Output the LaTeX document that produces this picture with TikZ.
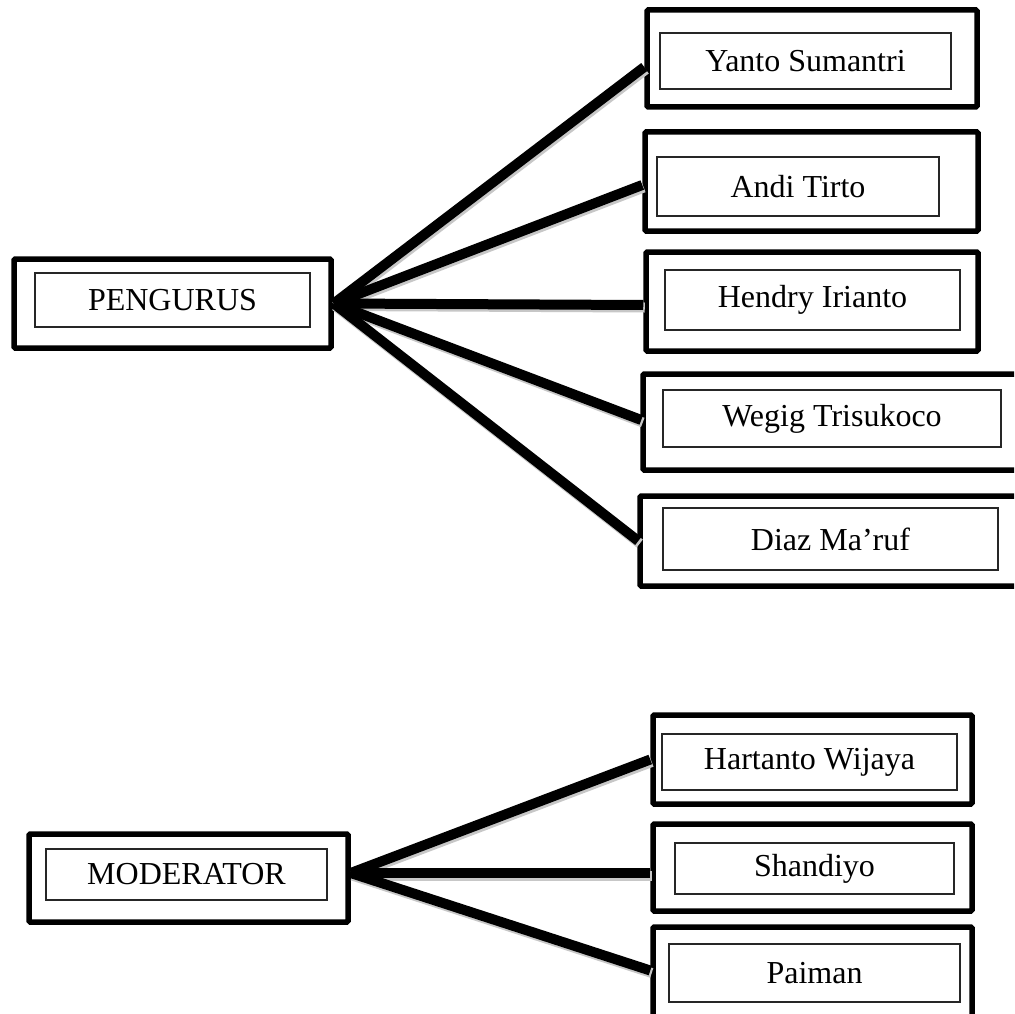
\documentclass[tikz,border=0pt]{standalone}
\usepackage{fontspec}
\setmainfont{Liberation Serif}
\begin{document}
\begin{tikzpicture}[x=1pt,y=-1pt,
  outerbox/.style={draw=black, line width=5.5pt, rounded corners=1.2pt, inner sep=0pt},
  innerbox/.style={draw=black!85, line width=1.3pt, inner sep=0pt, font=\fontsize{32}{38}\selectfont},
  conn/.style={line width=10pt, black,
    preaction={draw=black!22, line width=10pt, transform canvas={shift={(1.5pt,-2.5pt)}}}}]
\useasboundingbox (0,0) rectangle (1014,1014);
\clip (0,0) rectangle (1014,1014);
\fill[white] (0,0) rectangle (1014,1014);
% outer boxes
\node[outerbox, minimum width=317pt, minimum height=89pt] (P) at (172.5,303.5) {};
\node[outerbox, minimum width=330pt, minimum height=97pt] (Y) at (812,58.5) {};
\node[outerbox, minimum width=333pt, minimum height=99pt] (A) at (811.5,181.5) {};
\node[outerbox, minimum width=332pt, minimum height=99pt] (H) at (812,301.5) {};
\node[outerbox, minimum width=390pt, minimum height=96pt] (W) at (838,422) {};
\node[outerbox, minimum width=390pt, minimum height=90pt] (D) at (835,541) {};
\node[outerbox, minimum width=319pt, minimum height=88pt] (M) at (188.5,878) {};
\node[outerbox, minimum width=319pt, minimum height=89pt] (HW) at (812.5,759.5) {};
\node[outerbox, minimum width=319pt, minimum height=87pt] (S) at (812.5,867.5) {};
\node[outerbox, minimum width=319pt, minimum height=103pt] (PA) at (812.5,978.5) {};
% inner boxes with text
\node[innerbox, minimum width=275pt, minimum height=54pt] (Pi) at (172.5,300) {PENGURUS};
\node[innerbox, minimum width=291pt, minimum height=56pt] (Yi) at (805.5,61) {Yanto Sumantri};
\node[innerbox, minimum width=282pt, minimum height=59pt] (Ai) at (798,186.5) {Andi Tirto};
\node[innerbox, minimum width=295pt, minimum height=60pt] (Hi) at (812.5,300) {Hendry Irianto};
\node[innerbox, minimum width=338pt, minimum height=57pt] (Wi) at (832,418.5) {Wegig Trisukoco};
\node[innerbox, minimum width=335pt, minimum height=62pt] (Di) at (830.5,539) {Diaz Ma’ruf};
\node[innerbox, minimum width=281pt, minimum height=51pt] (Mi) at (186.5,874.5) {MODERATOR};
\node[innerbox, minimum width=295pt, minimum height=56pt] (HWi) at (809.5,762) {Hartanto Wijaya};
\node[innerbox, minimum width=279pt, minimum height=51pt] (Si) at (814.5,868.5) {Shandiyo};
\node[innerbox, minimum width=291pt, minimum height=58pt] (PAi) at (814.5,973) {Paiman};
% connectors
\draw[conn] (P.east) -- ([yshift=-8.5pt]Y.west);
\draw[conn] (P.east) -- ([yshift=-3.5pt]A.west);
\draw[conn] (P.east) -- ([yshift=-3.5pt]H.west);
\draw[conn] (P.east) -- ([yshift=2pt,xshift=1pt]W.west);
\draw[conn] (P.east) -- ([xshift=1pt]D.west);
\draw[conn] ([yshift=5pt]M.east) -- (HW.west);
\draw[conn] ([yshift=5pt]M.east) -- ([yshift=-5.5pt]S.west);
\draw[conn] ([yshift=5pt]M.east) -- ([yshift=8pt]PA.west);
\end{tikzpicture}
\end{document}
